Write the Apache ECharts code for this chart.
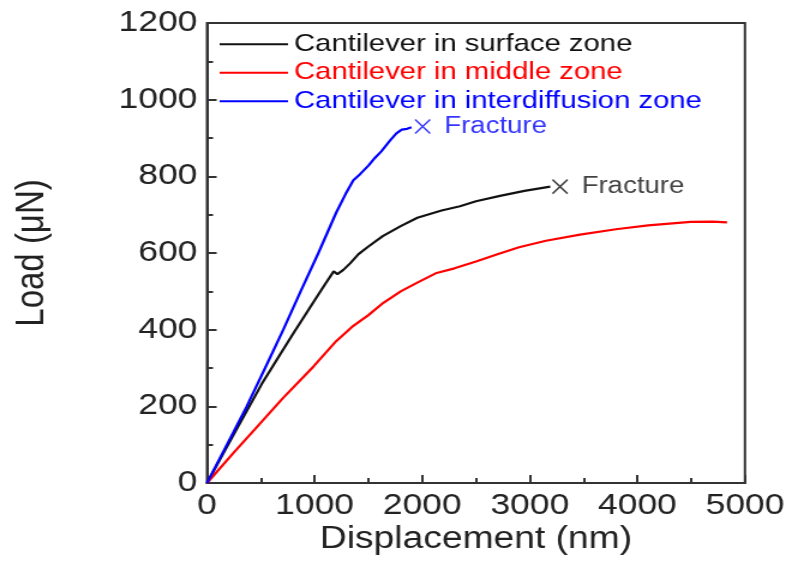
<!DOCTYPE html>
<html>
<head>
<meta charset="utf-8">
<script src="https://cdn.jsdelivr.net/npm/echarts@6/dist/echarts.min.js"></script>
<style>
  html, body { margin: 0; padding: 0; background: #fff; overflow: hidden; }
  /* the figure is drawn at a narrower width and widened to 786px */
  #chart { width: 655px; height: 561px; transform: scaleX(1.2); transform-origin: 0 0; }
</style>
</head>
<body>
<div id="chart"></div>
<script>
// Load–displacement curves of micro-cantilevers, [displacement nm, load µN]
const surfaceZone = [
  [0, 0], [250, 128], [508, 258], [650, 322], [797, 388], [990, 472],
  [1100, 520], [1177, 552], [1212, 545], [1267, 556], [1330, 573],
  [1408, 597], [1500, 617], [1633, 644], [1800, 670], [1955, 692],
  [2180, 711], [2351, 722], [2500, 735], [2723, 749], [2950, 762], [3190, 773]
];
const middleZone = [
  [0, 0], [250, 80], [444, 140], [701, 220], [990, 304], [1200, 370],
  [1360, 410], [1500, 438], [1639, 470], [1800, 500], [1950, 522],
  [2134, 548], [2300, 560], [2500, 578], [2692, 596], [2900, 615],
  [3150, 632], [3467, 648], [3800, 662], [4100, 672], [4495, 681],
  [4700, 682], [4833, 680]
];
const interdiffusionZone = [
  [0, 0], [185, 100], [369, 200], [540, 300], [709, 400], [870, 500],
  [1035, 600], [1200, 705], [1290, 755], [1360, 790], [1420, 805],
  [1500, 828], [1560, 848], [1620, 865], [1700, 893], [1760, 912],
  [1810, 922], [1860, 924], [1900, 928]
];
// Fracture points
const fractureSurface = [[3281, 773]];
const fractureInterdiffusion = [[2004, 930]];

const seriesNames = [
  'Cantilever in surface zone',
  'Cantilever in middle zone',
  'Cantilever in interdiffusion zone'
];
const seriesColors = ['#111111', '#ff0000', '#0000ff'];
const fractureText = 'Fracture';
const xTicks = { min: 0, max: 5000, interval: 1000 };
const yTicks = { min: 0, max: 1200, interval: 200 };

const FONT = '"Liberation Sans", Arial, sans-serif';
const crossPath = 'path://M0,0L10,10M10,0L0,10';

const chart = echarts.init(document.getElementById('chart'), null, { renderer: 'canvas' });

function curve(name, data, color) {
  return {
    name, type: 'line', data, symbol: 'none', showSymbol: false, smooth: false,
    lineStyle: { color, width: 2.2 }, itemStyle: { color },
    z: 3
  };
}
function fracture(data, color) {
  return {
    type: 'scatter', data, symbol: crossPath, symbolSize: [12.5, 14],
    itemStyle: { color: 'transparent', borderColor: color, borderWidth: 1.5 },
    label: {
      show: true, position: 'right', distance: 11,
      formatter: fractureText, color,
      fontFamily: FONT, fontSize: 23
    },
    z: 4
  };
}

const plain = v => String(v);
const axisColor = '#333';

chart.setOption({
  animation: false,
  backgroundColor: '#ffffff',
  grid: {
    left: 172.5, right: 34.2, top: 23, bottom: 78,
    show: true, borderColor: axisColor, borderWidth: 2,
    containLabel: false, outerBoundsMode: 'none'
  },
  legend: {
    orient: 'vertical', left: 183, top: 30, itemGap: 0, padding: 0,
    itemWidth: 57, itemHeight: 2,
    data: seriesNames.map((n, i) => ({
      name: n, icon: 'rect',
      itemStyle: { color: seriesColors[i] },
      textStyle: { color: seriesColors[i] }
    })),
    textStyle: { fontFamily: FONT, fontSize: 24.4, lineHeight: 28.5 }
  },
  xAxis: {
    type: 'value', min: xTicks.min, max: xTicks.max, interval: xTicks.interval,
    name: 'Displacement (nm)', nameLocation: 'middle', nameGap: 41,
    nameMoveOverlap: false,
    nameTextStyle: { fontFamily: FONT, fontSize: 31, color: '#222' },
    axisLine: { show: true, lineStyle: { color: axisColor, width: 2 } },
    axisTick: { show: true, inside: true, length: 8, lineStyle: { color: axisColor, width: 2 } },
    minorTick: { show: true, splitNumber: 2, length: 5, lineStyle: { color: axisColor, width: 2 } },
    axisLabel: { fontFamily: FONT, fontSize: 29.5, color: '#222', margin: 8, formatter: plain },
    splitLine: { show: false }
  },
  yAxis: {
    type: 'value', min: yTicks.min, max: yTicks.max, interval: yTicks.interval,
    name: 'Load (μN)', nameLocation: 'middle', nameGap: 129, nameRotate: 90,
    nameMoveOverlap: false,
    nameTextStyle: { fontFamily: FONT, fontSize: 33, color: '#222' },
    axisLine: { show: true, lineStyle: { color: axisColor, width: 2 } },
    axisTick: { show: true, inside: true, length: 8, lineStyle: { color: axisColor, width: 2 } },
    minorTick: { show: true, splitNumber: 2, length: 5, lineStyle: { color: axisColor, width: 2 } },
    axisLabel: { fontFamily: FONT, fontSize: 29.5, color: '#222', margin: 8, formatter: plain },
    splitLine: { show: false }
  },
  series: [
    curve(seriesNames[0], surfaceZone, seriesColors[0]),
    curve(seriesNames[1], middleZone, seriesColors[1]),
    curve(seriesNames[2], interdiffusionZone, seriesColors[2]),
    fracture(fractureSurface, seriesColors[0]),
    fracture(fractureInterdiffusion, seriesColors[2])
  ]
});
</script>
</body>
</html>
